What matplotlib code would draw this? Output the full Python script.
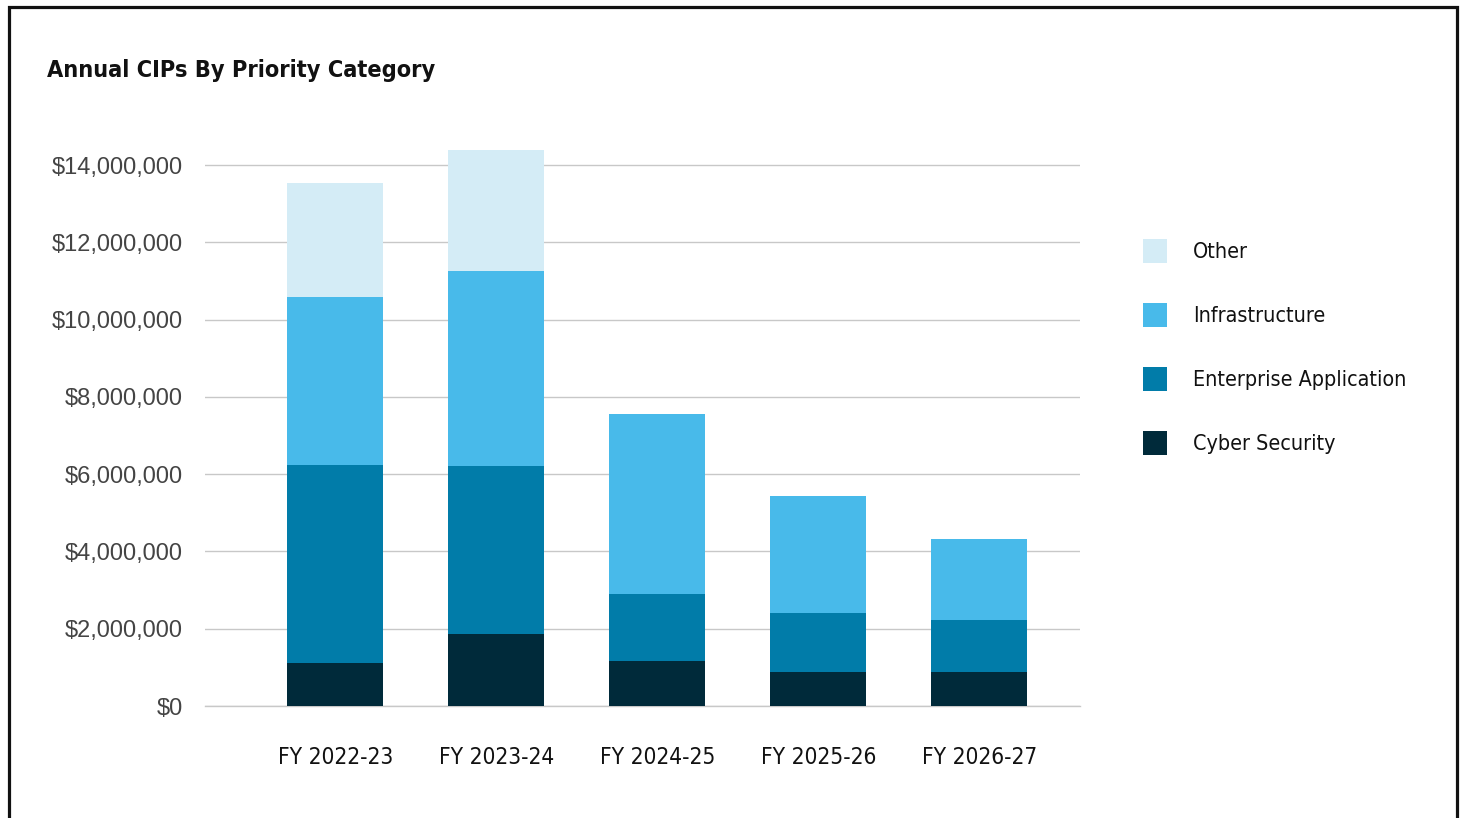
import matplotlib
matplotlib.use("Agg")
import matplotlib.pyplot as plt
from matplotlib.patches import Rectangle
from matplotlib.ticker import FuncFormatter
from matplotlib import font_manager
from matplotlib.font_manager import FontProperties

# Data (USD)
years = ["FY 2022-23", "FY 2023-24", "FY 2024-25", "FY 2025-26", "FY 2026-27"]
cyber_security = [1_120_000, 1_860_000, 1_170_000, 880_000, 880_000]
enterprise_app = [5_120_000, 4_360_000, 1_730_000, 1_520_000, 1_340_000]
infrastructure = [4_350_000, 5_030_000, 4_660_000, 3_040_000, 2_110_000]
other = [2_950_000, 3_130_000, 0, 0, 0]

series_names = ["Cyber Security", "Enterprise Application", "Infrastructure", "Other"]
colors = ["#002A3A", "#017CA9", "#48BAEA", "#D4ECF6"]


def condensed_font(bold=False):
    """Return a FontProperties for a condensed sans face, if one is installed."""
    narrow = ("condensed", "semi-condensed", "extra-condensed", "ultra-condensed")
    best = None
    for f in font_manager.fontManager.ttflist:
        name = f.name.lower()
        is_narrow = (str(f.stretch) in narrow or "condensed" in name or "narrow" in name
                     or "condensed" in f.fname.lower() or "narrow" in f.fname.lower())
        if not is_narrow or f.style != "normal":
            continue
        w = f.weight if isinstance(f.weight, int) else (700 if f.weight == "bold" else 400)
        score = abs(w - (700 if bold else 400))
        if "semi" in f.fname.lower() or "semi" in str(f.stretch):
            score += 50
        if best is None or score < best[0]:
            best = (score, f.fname)
    if best is not None:
        return FontProperties(fname=best[1])
    return FontProperties(family=["Liberation Sans", "DejaVu Sans"],
                          weight="bold" if bold else "normal")


reg_fp = condensed_font(False)
bold_fp = condensed_font(True)
num_font = ["Liberation Sans", "DejaVu Sans"]

fig = plt.figure(figsize=(14.64, 8.18), dpi=100)
ax = fig.add_axes([0.1400, 0.1369, 0.5977, 0.6850])

x = list(range(len(years)))
bottom = [0] * len(years)
handles = []
for name, vals, col in zip(series_names, [cyber_security, enterprise_app, infrastructure, other], colors):
    b = ax.bar(x, vals, width=0.596, bottom=bottom, color=col, label=name, zorder=3, linewidth=0)
    handles.append(b)
    bottom = [bt + v for bt, v in zip(bottom, vals)]

ax.set_xlim(-0.81, 4.625)
ax.set_ylim(0, 14_500_000)
ax.set_yticks(range(0, 14_000_001, 2_000_000))
ax.yaxis.set_major_formatter(FuncFormatter(lambda v, p: f"${v:,.0f}"))
ax.grid(axis="y", color="#C8C8C8", linewidth=1.0, zorder=0)
ax.axhline(0, color="#C8C8C8", linewidth=1.0, zorder=0, clip_on=False)
for s in ax.spines.values():
    s.set_visible(False)
ax.tick_params(axis="both", length=0)
ax.tick_params(axis="y", pad=16, labelsize=17, labelcolor="#444444")
for lbl in ax.get_yticklabels():
    lbl.set_fontfamily(num_font)
ax.set_xticks(x)
ax.set_xticklabels(years, fontproperties=reg_fp, color="#111111")
for lbl in ax.get_xticklabels():
    lbl.set_fontsize(16.3)
ax.tick_params(axis="x", pad=29)

title_fp = bold_fp.copy()
title_fp.set_size(16.8)
fig.text(47 / 1464, 1 - 71 / 818, "Annual CIPs By Priority Category", fontproperties=title_fp,
         color="#111111", va="center", ha="left")

# Legend drawn top-down: Other, Infrastructure, Enterprise Application, Cyber Security
leg_fp = reg_fp.copy()
leg_fp.set_size(15.4)
leg = ax.legend(handles[::-1], series_names[::-1], loc="upper left",
                bbox_to_anchor=(1124 / 1464, 1 - 220 / 818), bbox_transform=fig.transFigure,
                frameon=False, prop=leg_fp,
                handlelength=1.12, handleheight=1.35, handletextpad=1.2, labelspacing=1.86)
for t in leg.get_texts():
    t.set_color("#111111")

# Outer frame
fig.patches.append(Rectangle((8.5 / 1464, -0.05), (1456.5 - 8.5) / 1464, 1 - 6.5 / 818 + 0.05,
                             transform=fig.transFigure, fill=False, edgecolor="#111111",
                             linewidth=2.3, zorder=10))

fig.savefig("out.png", dpi=100)
